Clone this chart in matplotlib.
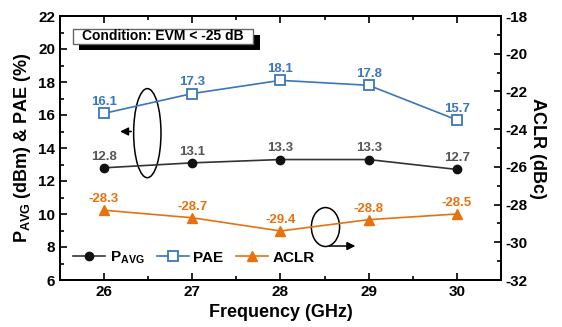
import matplotlib.pyplot as plt
from matplotlib.patches import Ellipse, Rectangle
from matplotlib.ticker import MultipleLocator

plt.rcParams['font.family'] = 'Liberation Sans'
plt.rcParams['font.weight'] = 'bold'
plt.rcParams['axes.unicode_minus'] = False
plt.rcParams['mathtext.fontset'] = 'custom'
plt.rcParams['mathtext.rm'] = 'Liberation Sans:bold'
plt.rcParams['mathtext.bf'] = 'Liberation Sans:bold'

# Data
freq = [26, 27, 28, 29, 30]
pavg = [12.8, 13.1, 13.3, 13.3, 12.7]
pae = [16.1, 17.3, 18.1, 17.8, 15.7]
aclr = [-28.3, -28.7, -29.4, -28.8, -28.5]

c_pavg = '#111111'
c_pae = '#3a76b8'
c_aclr = '#e8710f'

W, H = 562, 327
fig = plt.figure(figsize=(W / 100, H / 100), dpi=100)
ax = fig.add_axes([60 / W, 1 - 280 / H, 441 / W, 264 / H])
ax2 = ax.twinx()

l1, = ax.plot(freq, pavg, color='#333333', lw=1.2, marker='o', ms=6,
              mfc=c_pavg, mec=c_pavg, label=r'P$_{\mathrm{AVG}}$')
l2, = ax.plot(freq, pae, color=c_pae, lw=1.2, marker='s', ms=7,
              mfc='white', mec=c_pae, mew=1.3, label='PAE')
l3, = ax2.plot(freq, aclr, color=c_aclr, lw=1.2, marker='^', ms=7,
               mfc=c_aclr, mec=c_aclr, label='ACLR')

for a, ys, col in ((ax, pavg, '#555555'), (ax, pae, c_pae), (ax2, aclr, c_aclr)):
    for x, y in zip(freq, ys):
        a.annotate(f'{y}', (x, y), xytext=(0, 8), textcoords='offset points',
                   ha='center', va='center', color=col, fontsize=9.5, fontweight='bold')

ax.set_xlim(25.5, 30.5)
ax.set_ylim(6, 22)
ax2.set_ylim(-32, -18)
ax.set_xticks(freq)
ax.xaxis.set_minor_locator(MultipleLocator(0.5))
ax.yaxis.set_major_locator(MultipleLocator(2))
ax.yaxis.set_minor_locator(MultipleLocator(1))
ax2.yaxis.set_major_locator(MultipleLocator(2))
ax2.yaxis.set_minor_locator(MultipleLocator(1))

ax.tick_params(which='both', direction='in', top=True, labelsize=11, width=1.2)
ax.tick_params(which='major', length=5)
ax.tick_params(which='minor', length=3)
ax2.tick_params(which='both', direction='in', labelsize=11, width=1.2)
ax2.tick_params(which='major', length=5)
ax2.tick_params(which='minor', length=3)
for a in (ax, ax2):
    for s in a.spines.values():
        s.set_linewidth(1.3)
    for t in a.get_xticklabels() + a.get_yticklabels():
        t.set_fontweight('bold')

ax.set_xlabel('Frequency (GHz)', fontsize=13, fontweight='bold', labelpad=4)
ax.set_ylabel(r'P$_{\mathrm{AVG}}$ (dBm) & PAE (%)', fontsize=13, fontweight='bold', labelpad=4)
ax2.set_ylabel('ACLR (dBc)', fontsize=13, fontweight='bold', rotation=270, labelpad=13)

# condition box with shadow (pixel positions)
fig.add_artist(Rectangle((79 / W, 1 - 50 / H), 181 / W, 15 / H, transform=fig.transFigure,
                         fc='black', ec='none', zorder=4))
fig.add_artist(Rectangle((73 / W, 1 - 44 / H), 180 / W, 15 / H, transform=fig.transFigure,
                         fc='white', ec='#666666', lw=1, zorder=5))
fig.text(163 / W, 1 - 36.5 / H, 'Condition: EVM < -25 dB', fontsize=10, fontweight='bold',
         ha='center', va='center', zorder=6)

# ellipses and arrows
ax.add_patch(Ellipse((26.49, 14.9), 0.31, 5.4, fill=False, ec='black', lw=1.1))
ax.annotate('', xy=(26.15, 15.0), xytext=(26.34, 15.0),
            arrowprops=dict(arrowstyle='-|>', color='black', lw=1.1, mutation_scale=12))
ax.add_patch(Ellipse((28.51, 9.21), 0.32, 2.36, fill=False, ec='black', lw=1.1))
ax.annotate('', xy=(28.88, 8.06), xytext=(28.52, 8.06),
            arrowprops=dict(arrowstyle='-|>', color='black', lw=1.1, mutation_scale=12))

ax.legend(handles=[l1, l2, l3], loc='center left', ncol=3, frameon=False,
          fontsize=11, handlelength=2.1, columnspacing=0.8, handletextpad=0.3,
          borderpad=0, borderaxespad=0, bbox_to_anchor=(13 / 441, 22 / 264))

fig.savefig('out.png', dpi=100)
